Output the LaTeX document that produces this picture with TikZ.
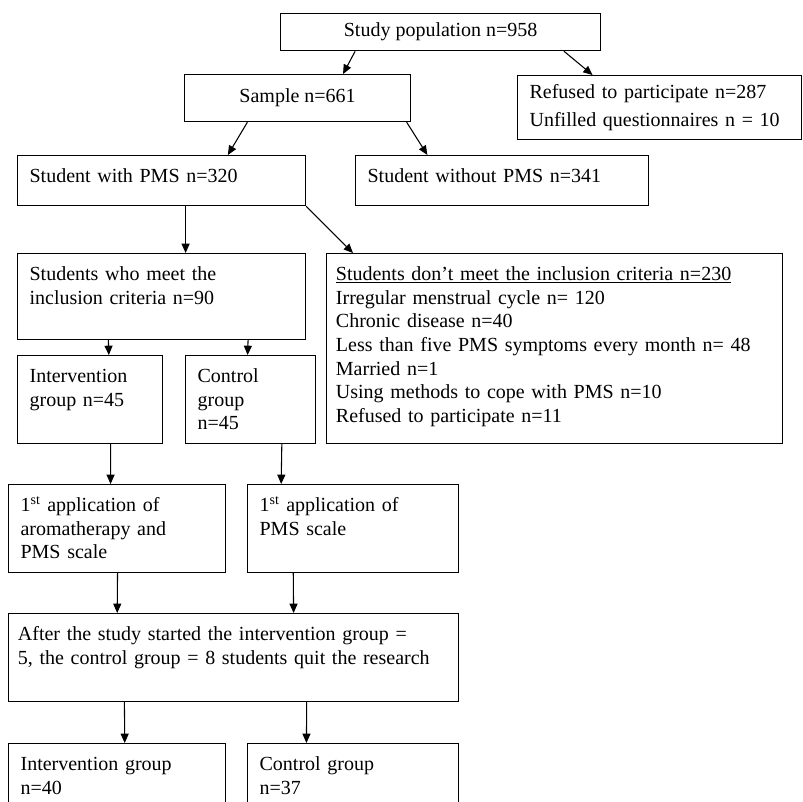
\documentclass[tikz,border=0pt]{standalone}
\usepackage{fontspec}
\setmainfont{Liberation Serif}
\usetikzlibrary{arrows.meta, calc}
\tikzset{
  box/.style   = {draw, line width=0.9pt, anchor=north west, align=left,
                  inner xsep=9pt, inner ysep=0pt,
                  font=\fontsize{15}{17.8}\selectfont},
  cbox/.style 2 args = {box, align=center, inner sep=0pt,
                  minimum width=#1*0.75pt, minimum height=#2*0.75pt},
  lbox/.style 2 args = {box, text width=#1*0.75pt-18pt, minimum height=#2*0.75pt},
  tbox/.style 2 args = {box, text width=#1*0.75pt-18pt,
                  text height=20pt, text depth=#2*0.75pt-20pt},
  arrow/.style = {-{Triangle[length=7pt, width=6pt]}, line width=0.8pt},
}

\begin{document}
\begin{tikzpicture}[x=0.75pt, y=-0.75pt]
  \useasboundingbox (0,0) rectangle (803,801);
  \fill[white] (0,0) rectangle (803,801);
  \clip (0,0) rectangle (803,801);

  % screening
  \node[cbox={320}{37}] (study) at (280,13) {Study population n=958};
  \node[cbox={226}{47}] (sample) at (184,74) {Sample n=661};
  \node[lbox={284}{64}] (refused) at (517,75)
    {Refused to participate n=287\\[3pt]Unfilled questionnaires n = 10};
  \node[tbox={288}{50}] (pms) at (17,155) {Student with PMS n=320};
  \node[tbox={293}{50}] (nopms) at (355,155) {Student without PMS n=341};

  % inclusion
  \node[tbox={288}{86}] (meet) at (17,253)
    {Students who meet the\\inclusion criteria n=90};
  \node[tbox={456}{190}, inner xsep=7pt, text width=456*0.75pt-14pt] (dont) at (326,253)
    {\underline{Students don’t meet the inclusion criteria n=230}\\
     Irregular menstrual cycle n= 120\\
     Chronic disease n=40\\
     Less than five PMS symptoms every month n= 48\\
     Married n=1\\
     Using methods to cope with PMS n=10\\
     Refused to participate n=11};
  \node[tbox={145}{88}] (inter) at (17,355) {Intervention\\group n=45};
  \node[tbox={130}{88}] (ctrl) at (185,355) {Control\\group\\n=45};

  % follow-up
  \node[tbox={217}{88}] (appA) at (8,484)
    {1\textsuperscript{st} application of\\aromatherapy and\\PMS scale};
  \node[tbox={211}{88}] (appB) at (247,484)
    {1\textsuperscript{st} application of\\PMS scale};
  \node[tbox={450}{88}, inner xsep=7pt, text width=450*0.75pt-14pt] (quit) at (8,613)
    {After the study started the intervention group =\\
     5, the control group = 8 students quit the research};
  \node[tbox={217}{90}] (finA) at (8,743) {Intervention group\\n=40};
  \node[tbox={211}{90}] (finB) at (247,743) {Control group\\n=37};

  % connectors
  \draw[arrow] ($(study.south west)!.234!(study.south east)$)
            -- ($(sample.north west)!.70!(sample.north east)$);
  \draw[arrow] ($(study.south west)!.884!(study.south east)$)
            -- ($(refused.north west)!.265!(refused.north east)$);
  \draw[arrow] ($(sample.south west)!.279!(sample.south east)$)
            -- ($(pms.north west)!.729!(pms.north east)$);
  \draw[arrow] ($(sample.south west)!.98!(sample.south east)$)
            -- ($(nopms.north west)!.246!(nopms.north east)$);
  \draw[arrow] ($(pms.south west)!.583!(pms.south east)$)
            -- ($(meet.north west)!.583!(meet.north east)$);
  \draw[arrow] (pms.south east)
            -- ($(dont.north west)!.059!(dont.north east)$);
  \draw[arrow] ($(meet.south west)!.316!(meet.south east)$)
            -- ($(inter.north west)!.628!(inter.north east)$);
  \draw[arrow] ($(meet.south west)!.799!(meet.south east)$)
            -- ($(ctrl.north west)!.477!(ctrl.north east)$);
  \draw[arrow] ($(inter.south west)!.641!(inter.south east)$)
            -- ($(appA.north west)!.470!(appA.north east)$);
  \draw[arrow] ($(ctrl.south west)!.738!(ctrl.south east)$)
            -- ($(appB.north west)!.161!(appB.north east)$);
  \draw[arrow] ($(appA.south west)!.502!(appA.south east)$)
            -- ($(quit.north west)!.242!(quit.north east)$);
  \draw[arrow] ($(appB.south west)!.218!(appB.south east)$)
            -- ($(quit.north west)!.633!(quit.north east)$);
  \draw[arrow] ($(quit.south west)!.258!(quit.south east)$)
            -- ($(finA.north west)!.535!(finA.north east)$);
  \draw[arrow] ($(quit.south west)!.662!(quit.south east)$)
            -- ($(finB.north west)!.280!(finB.north east)$);
\end{tikzpicture}
\end{document}
